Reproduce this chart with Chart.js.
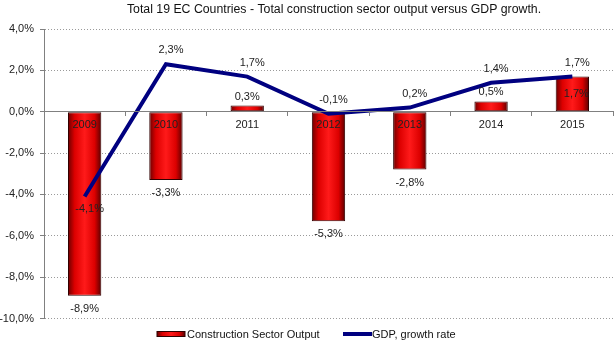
<!DOCTYPE html>
<html>
<head>
<meta charset="utf-8">
<script src="https://cdn.jsdelivr.net/npm/chart.js@4.4.0/dist/chart.umd.min.js"></script>
<style>
html,body{margin:0;padding:0;background:#fff;}
#wrap{width:614px;height:345px;}
</style>
</head>
<body>
<div id="wrap"><canvas id="c" width="614" height="345"></canvas></div>
<script>
const titleText = 'Total 19 EC Countries - Total construction sector output versus GDP growth.';
const categories = ['2009', '2010', '2011', '2012', '2013', '2014', '2015'];
const constructionOutput = [-8.9, -3.3, 0.3, -5.3, -2.8, 0.5, 1.7];
const gdpGrowth = [-4.1, 2.3, 1.7, -0.1, 0.2, 1.4, 1.7];
const seriesNames = ['Construction Sector Output', 'GDP, growth rate'];
const yTicks = [-10, -8, -6, -4, -2, 0, 2, 4];
// label placement (style, not data)
const barLabelPlace = ['below', 'below', 'above', 'below', 'below', 'above', 'inside'];
const lineLabelPlace = ['below', 'above', 'above', 'above', 'above', 'above', 'above'];

const FONT = '"Liberation Sans", Arial, sans-serif';
const fmt = v => v.toFixed(1).replace('.', ',') + '%';

function barGradient(ctx, x0, x1) {
  const g = ctx.createLinearGradient(x0, 0, x1, 0);
  g.addColorStop(0, '#6a0000');
  g.addColorStop(0.2, '#dc0000');
  g.addColorStop(0.5, '#ff1a1a');
  g.addColorStop(0.8, '#dc0000');
  g.addColorStop(1, '#5a0000');
  return g;
}

const BAR_PCT = 0.41;

const labelsPlugin = {
  id: 'labelsPlugin',
  afterDatasetsDraw(chart) {
    const ctx = chart.ctx;
    ctx.save();
    ctx.font = '11px ' + FONT;
    ctx.fillStyle = '#222';
    ctx.textAlign = 'center';
    ctx.textBaseline = 'middle';
    const barMeta = chart.getDatasetMeta(1);
    barMeta.data.forEach((el, i) => {
      const v = constructionOutput[i];
      const p = barLabelPlace[i];
      let y;
      if (p === 'below') y = el.y + 13;
      else if (p === 'above') y = el.y - 9;
      else y = el.y + 17;
      ctx.fillText(fmt(v), el.x + (p === 'inside' ? 4 : 0), y);
    });
    const lineMeta = chart.getDatasetMeta(0);
    lineMeta.data.forEach((el, i) => {
      const v = gdpGrowth[i];
      const p = lineLabelPlace[i];
      const y = p === 'below' ? el.y + 12 : el.y - 14;
      ctx.fillText(fmt(v), el.x + 5, y);
    });
    ctx.restore();
  },
  afterDraw(chart) {
    const ctx = chart.ctx;
    ctx.save();
    // title
    ctx.font = '12.3px ' + FONT;
    ctx.fillStyle = '#111';
    ctx.textAlign = 'center';
    ctx.textBaseline = 'middle';
    ctx.fillText(titleText, 334, 10);
    // legend
    ctx.font = '11px ' + FONT;
    ctx.textAlign = 'left';
    ctx.fillStyle = barGradient(ctx, 157, 185);
    ctx.fillRect(157, 331.5, 28, 5);
    ctx.strokeStyle = '#300000';
    ctx.lineWidth = 1;
    ctx.strokeRect(157, 331.5, 28, 5);
    ctx.fillStyle = '#111';
    ctx.fillText(seriesNames[0], 187, 334.5);
    ctx.strokeStyle = '#000080';
    ctx.lineWidth = 4;
    ctx.beginPath();
    ctx.moveTo(343, 334);
    ctx.lineTo(372, 334);
    ctx.stroke();
    ctx.fillStyle = '#111';
    ctx.fillText(seriesNames[1], 372, 334.5);
    ctx.restore();
  }
};

new Chart(document.getElementById('c'), {
  type: 'bar',
  data: {
    labels: categories,
    datasets: [
      {
        type: 'line',
        label: seriesNames[1],
        data: gdpGrowth,
        borderColor: '#000080',
        borderWidth: 4,
        pointRadius: 0,
        tension: 0,
        fill: false,
        borderJoinStyle: 'miter',
        order: 0
      },
      {
        type: 'bar',
        label: seriesNames[0],
        data: constructionOutput,
        borderColor: '#300000',
        borderWidth: 1,
        borderSkipped: false,
        barPercentage: BAR_PCT,
        categoryPercentage: 1,
        backgroundColor: (c) => {
          const chart = c.chart;
          const xs = chart.scales.x;
          if (!xs || c.dataIndex === undefined) return '#e00000';
          const cx = xs.getPixelForValue(c.dataIndex);
          const w = (xs.getPixelForValue(1) - xs.getPixelForValue(0)) * BAR_PCT;
          if (!isFinite(cx) || !isFinite(w) || w <= 0) return '#e00000';
          return barGradient(chart.ctx, cx - w / 2, cx + w / 2);
        },
        order: 1
      }
    ]
  },
  options: {
    responsive: false,
    animation: false,
    devicePixelRatio: 1,
    layout: { padding: { left: 0, right: 1, top: 29, bottom: 26.5 } },
    plugins: {
      legend: { display: false },
      title: { display: false },
      tooltip: { enabled: false }
    },
    scales: {
      x: {
        position: { y: 0 },
        offset: true,
        afterFit: (s) => { s.height = 0; },
        grid: {
          offset: true,
          drawOnChartArea: false,
          drawTicks: true,
          tickLength: 4,
          tickColor: '#808080',
          tickWidth: 1,
          z: 1
        },
        border: { display: true, color: '#808080', width: 1, z: 1 },
        ticks: {
          z: 1,
          color: '#222',
          font: { family: FONT, size: 11 },
          padding: 3,
          maxRotation: 0,
          autoSkip: false
        }
      },
      y: {
        min: -10,
        max: 4,
        afterFit: (s) => { s.width = 44; },
        afterBuildTicks: (s) => { s.ticks = yTicks.map(v => ({ value: v })); },
        grid: {
          color: '#9a9a9a',
          lineWidth: 1,
          drawTicks: true,
          tickLength: 4,
          tickColor: '#808080',
          tickBorderDash: [],
          tickWidth: 1
        },
        border: { display: true, color: '#808080', width: 1, dash: [1, 2] },
        ticks: {
          color: '#222',
          font: { family: FONT, size: 11 },
          padding: 6,
          callback: (v) => fmt(v)
        }
      }
    }
  },
  plugins: [labelsPlugin]
});
</script>
</body>
</html>
